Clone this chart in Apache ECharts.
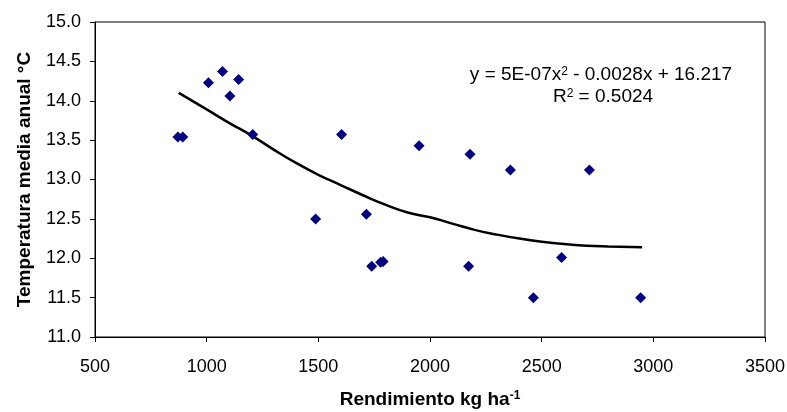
<!DOCTYPE html>
<html>
<head>
<meta charset="utf-8">
<script src="https://cdn.jsdelivr.net/npm/echarts@6/dist/echarts.min.js"></script>
<style>html,body{margin:0;padding:0;background:#fff}#c{width:787px;height:412px}</style>
</head>
<body>
<div id="c"></div>
<script>
// Observed points: yield (kg/ha) and mean annual temperature (°C)
const yieldX = [871, 893, 1008, 1071, 1104, 1143, 1206, 1488, 1604, 1715, 1739, 1779, 1790, 1951, 2173, 2179, 2360, 2463, 2589, 2714, 2943];
const tempY  = [13.54, 13.54, 14.23, 14.37, 14.06, 14.27, 13.57, 12.50, 13.57, 12.56, 11.90, 11.95, 11.96, 13.43, 11.90, 13.32, 13.12, 11.50, 12.01, 13.12, 11.50];
// Trend line
const trendX = [875, 1000, 1100, 1200, 1300, 1400, 1500, 1600, 1700, 1800, 1900, 2000, 2100, 2200, 2300, 2400, 2500, 2600, 2700, 2800, 2950];
const trendY = [14.10, 13.89, 13.72, 13.56, 13.38, 13.21, 13.06, 12.93, 12.80, 12.68, 12.58, 12.52, 12.44, 12.36, 12.30, 12.25, 12.21, 12.18, 12.16, 12.15, 12.14];
const equationText = '{t|y = 5E-07x}{s|2}{t| - 0.0028x + 16.217}';
const r2Text = '{t|R}{s|2}{t| = 0.5024}';

const font = '"Liberation Sans", Arial, sans-serif';
const richEq = {
  t: { fontFamily: font, fontSize: 19, fill: '#000', color: '#000' },
  s: { fontFamily: font, fontSize: 12, fill: '#000', color: '#000', verticalAlign: 'top', padding: [0, 0, 0, 0], lineHeight: 12 }
};
const chart = echarts.init(document.getElementById('c'));
chart.setOption({
  animation: false,
  backgroundColor: '#fff',
  grid: { left: 95, right: 22, top: 22, bottom: 75, containLabel: false, outerBoundsMode: 'none',
          show: true, borderColor: '#000', borderWidth: 1, backgroundColor: 'transparent' },
  xAxis: {
    type: 'value', min: 500, max: 3500, interval: 500,
    name: '{b|Rendimiento kg ha}{s|-1}', nameLocation: 'middle', nameGap: 53,
    nameTextStyle: { rich: {
      b: { fontFamily: font, fontWeight: 'bold', fontSize: 19, color: '#000' },
      s: { fontFamily: font, fontWeight: 'bold', fontSize: 12, color: '#000', verticalAlign: 'top', lineHeight: 12 } } },
    axisLine: { lineStyle: { color: '#000', width: 1 } },
    axisTick: { inside: false, length: 5, lineStyle: { color: '#000' } },
    axisLabel: { color: '#000', fontFamily: font, fontSize: 18, margin: 21, formatter: v => String(v) },
    splitLine: { show: false }
  },
  yAxis: {
    type: 'value', min: 11, max: 15, interval: 0.5,
    name: 'Temperatura media anual °C', nameLocation: 'middle', nameGap: 61, nameRotate: 90,
    nameTextStyle: { fontFamily: font, fontWeight: 'bold', fontSize: 19, color: '#000' },
    axisLine: { lineStyle: { color: '#000', width: 1 } },
    axisTick: { inside: false, length: 5, lineStyle: { color: '#000' } },
    axisLabel: { color: '#000', fontFamily: font, fontSize: 18, margin: 14, formatter: v => v.toFixed(1) },
    splitLine: { show: false }
  },
  series: [
    {
      type: 'line', data: trendX.map((x, i) => [x, trendY[i]]), smooth: true, showSymbol: false,
      lineStyle: { color: '#000', width: 2.5 }, z: 2
    },
    {
      type: 'scatter', data: yieldX.map((x, i) => [x, tempY[i]]), symbol: 'diamond', symbolSize: 11,
      itemStyle: { color: '#000080', opacity: 1 }, z: 3
    }
  ],
  graphic: [
    { type: 'text', x: 601, y: 75, z: 10, style: { text: equationText, rich: richEq, align: 'center', verticalAlign: 'middle' } },
    { type: 'text', x: 603, y: 97, z: 10, style: { text: r2Text, rich: richEq, align: 'center', verticalAlign: 'middle' } }
  ]
});
</script>
</body>
</html>
